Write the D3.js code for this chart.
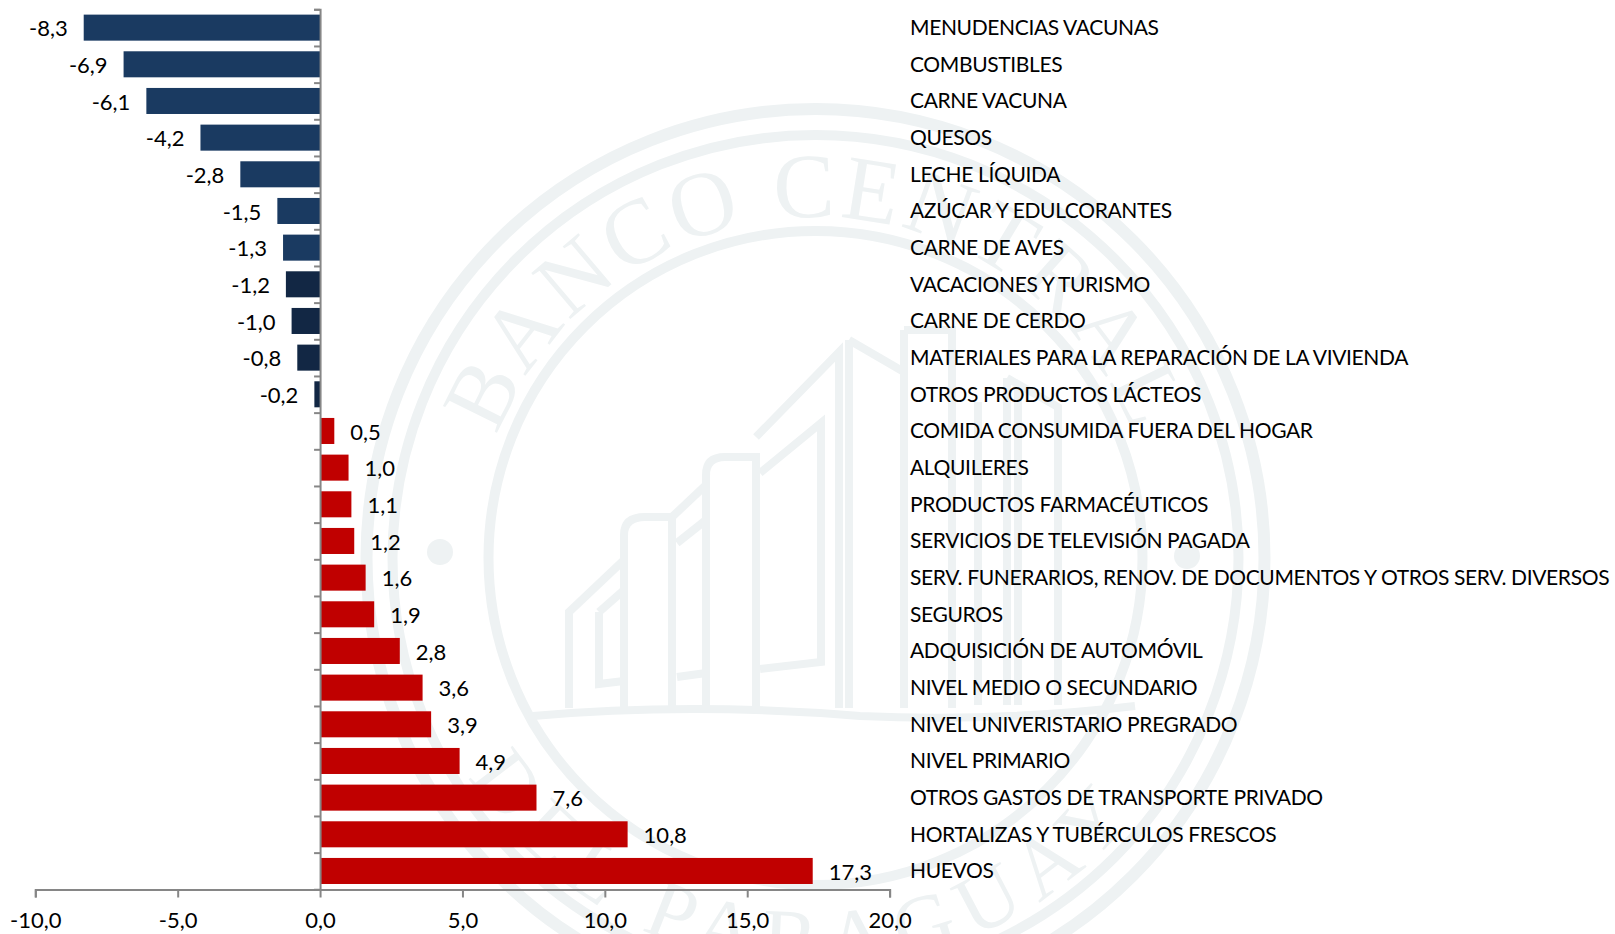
<!DOCTYPE html>
<html lang="es">
<head>
<meta charset="utf-8">
<title>Variaciones</title>
<script src="https://cdn.jsdelivr.net/npm/d3@7"></script>
<style>
html,body{margin:0;padding:0;background:#fff;}
svg{display:block;}
text{font-family:Lato,"Open Sans",sans-serif;fill:#000;}
</style>
</head>
<body>
<svg id="chart" width="1615" height="934"></svg>
<script>
const categories = ["MENUDENCIAS VACUNAS","COMBUSTIBLES","CARNE VACUNA","QUESOS","LECHE LÍQUIDA","AZÚCAR Y EDULCORANTES","CARNE DE AVES","VACACIONES Y TURISMO","CARNE DE CERDO","MATERIALES PARA LA REPARACIÓN DE LA VIVIENDA","OTROS PRODUCTOS LÁCTEOS","COMIDA CONSUMIDA FUERA DEL HOGAR","ALQUILERES","PRODUCTOS FARMACÉUTICOS","SERVICIOS DE TELEVISIÓN PAGADA","SERV. FUNERARIOS, RENOV. DE DOCUMENTOS Y OTROS SERV. DIVERSOS","SEGUROS","ADQUISICIÓN DE AUTOMÓVIL","NIVEL MEDIO O SECUNDARIO","NIVEL UNIVERISTARIO PREGRADO","NIVEL PRIMARIO","OTROS GASTOS DE TRANSPORTE PRIVADO","HORTALIZAS Y TUBÉRCULOS FRESCOS","HUEVOS"];
const values = [-8.3,-6.9,-6.1,-4.2,-2.8,-1.5,-1.3,-1.2,-1.0,-0.8,-0.2,0.5,1.0,1.1,1.2,1.6,1.9,2.8,3.6,3.9,4.9,7.6,10.8,17.3];
const darkCategories = ["VACACIONES Y TURISMO","CARNE DE CERDO","MATERIALES PARA LA REPARACIÓN DE LA VIVIENDA","OTROS PRODUCTOS LÁCTEOS"];
const xTicks = [-10,-5,0,5,10,15,20];
const sealTop = "BANCO CENTRAL";
const sealBottom = "DEL PARAGUAY";

const BLUE="#1a3a61", DARK="#122744", RED="#c00000", GREY="#868686", WM="#eef2f3";
const comma = v => (v<0?"-":"")+d3.format(".1f")(Math.abs(v)).replace(".",",");
const svg = d3.select("#chart");

const x = d3.scaleLinear().domain([-10,20]).range([35.3,889.6]);
const y = d3.scaleBand().domain(categories).range([9.3,889.3]).paddingInner(0.29).paddingOuter(0.145);
const slot = d3.scaleLinear().domain([0,categories.length]).range([9.3,889.3]);

/* watermark seal */
const wm = svg.append("g").attr("class","seal");
const cx=815.5, cy=558;
[[449,12],[423,10],[327,10]].forEach(([r,w])=>{
  wm.append("circle").attr("cx",cx).attr("cy",cy).attr("r",r).attr("fill","none").attr("stroke",WM).attr("stroke-width",w);
});
[[440,552],[1187,556]].forEach(([a,b])=>wm.append("circle").attr("cx",a).attr("cy",b).attr("r",13).attr("fill",WM));
const defs = svg.append("defs");
const rTop=341, rBot=410;
defs.append("path").attr("id","arcTop").attr("d",`M${cx-rTop},${cy} A${rTop},${rTop} 0 0 1 ${cx+rTop},${cy}`);
defs.append("path").attr("id","arcBot").attr("d",`M${cx-rBot},${cy} A${rBot},${rBot} 0 0 0 ${cx+rBot},${cy}`);
function sealText(id,str,off,fs,ls){
  wm.append("text").attr("font-size",fs).style("font-family","'Liberation Serif',serif").style("fill",WM)
    .attr("letter-spacing",ls).attr("text-anchor","middle")
    .append("textPath").attr("href","#"+id).attr("startOffset",off).text(str);
}
sealText("arcTop",sealTop,"50%",92,4);
sealText("arcBot",sealBottom,"48.5%",84,13);
const building = [
 "M533,716 Q690,702 860,716 Q1000,722 1135,706",
 "M569,708 V612 L624,560 V535 Q624,517 645,517 H672 V708",
 "M599,612 V684 L624,681 M599,612 L624,590",
 "M624,560 V708",
 "M672,517 L706,485 V475 Q706,457 725,457 H756 V708",
 "M677,677 L706,673 M677,543 L706,520",
 "M706,485 V708",
 "M756,437 L839,352 V708",
 "M760,473 L821,423 V662 L760,669",
 "M849,340 V708 M849,340 L904,372 M904,330 H952 V708 M904,330 V708",
 "M978,402 V705 M1007,378 V705 M1007,378 L1058,407 V705 M1018,385 V705"
];
wm.selectAll("path.bld").data(building).join("path").attr("class","bld").attr("d",d=>d)
  .attr("fill","none").attr("stroke",WM).attr("stroke-width",8);

/* bars */
svg.append("g").selectAll("rect").data(values).join("rect")
  .attr("x",d=>x(Math.min(d,0))).attr("width",d=>Math.abs(x(d)-x(0)))
  .attr("y",(d,i)=>y(categories[i])).attr("height",y.bandwidth())
  .attr("fill",(d,i)=>d>0?RED:(darkCategories.includes(categories[i])?DARK:BLUE));

/* axes */
const axisX = svg.append("g").attr("transform","translate(0,889.5)")
  .call(d3.axisBottom(x).tickValues(xTicks).tickFormat(comma).tickSize(8).tickPadding(15));
axisX.selectAll("text").attr("font-size",22);
const axisY = svg.append("g").attr("transform",`translate(${x(0)},0)`)
  .call(d3.axisLeft(slot).tickValues(d3.range(0,categories.length)).tickFormat("").tickSize(6));
[axisX,axisY].forEach(a=>{
  a.select(".domain").attr("stroke",GREY).attr("stroke-width",2);
  a.selectAll(".tick line").attr("stroke",GREY).attr("stroke-width",2);
});

/* value labels */
svg.append("g").selectAll("text").data(values).join("text")
  .attr("x",d=>x(d)+(d<0?-16:16)).attr("y",(d,i)=>y(categories[i])+y.bandwidth()/2+1)
  .attr("dy","0.35em").attr("text-anchor",d=>d<0?"end":"start").attr("font-size",22)
  .text(comma);

/* category labels */
const axisR = svg.append("g").attr("transform","translate(910,0.5)")
  .call(d3.axisRight(y).tickSize(0).tickPadding(0));
axisR.select(".domain").remove();
axisR.selectAll("text").attr("font-size",21).attr("letter-spacing",-0.36).attr("fill","#000");
</script>
</body>
</html>
